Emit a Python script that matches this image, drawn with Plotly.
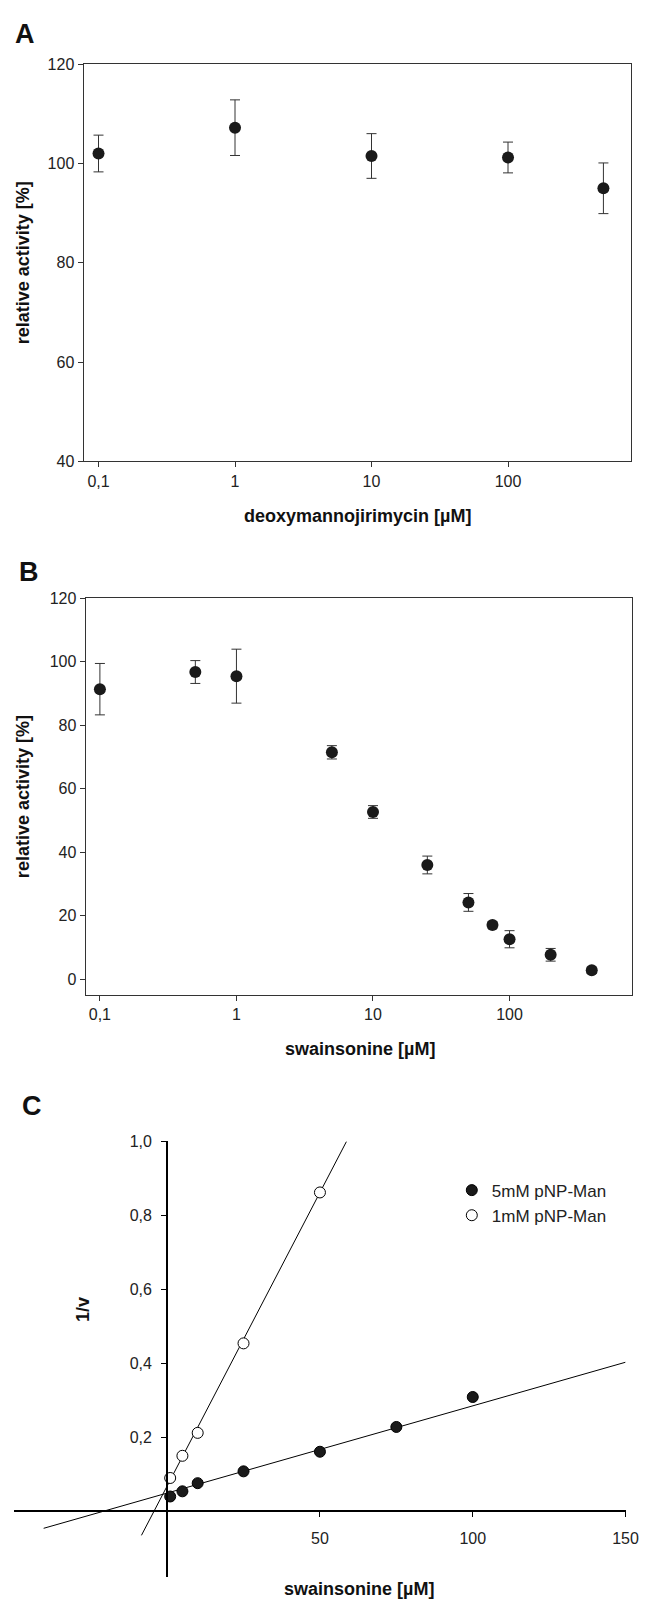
import plotly.graph_objects as go

# ---------------- Data ----------------
# Panel A: deoxymannojirimycin
dmj_conc = [0.1, 1, 10, 100, 500]
dmj_activity = [102.0, 107.2, 101.5, 101.2, 95.0]
dmj_err = [3.7, 5.6, 4.5, 3.1, 5.1]

# Panel B: swainsonine
sw_conc = [0.1, 0.5, 1, 5, 10, 25, 50, 75, 100, 200, 400]
sw_activity = [91.4, 96.8, 95.5, 71.5, 52.7, 36.0, 24.2, 17.1, 12.6, 7.7, 2.8]
sw_err = [8.1, 3.6, 8.5, 2.1, 2.0, 2.8, 2.8, 1.0, 2.7, 2.0, 1.0]

# Panel C: Dixon plot
dixon_conc_5mM = [1, 5, 10, 25, 50, 75, 100]
inv_v_5mM = [0.040, 0.054, 0.076, 0.108, 0.161, 0.228, 0.309]
dixon_conc_1mM = [1, 5, 10, 25, 50]
inv_v_1mM = [0.090, 0.150, 0.212, 0.454, 0.862]
fit_5mM_x = [-40.4, 150]
fit_5mM_y = [-0.046, 0.403]
fit_1mM_x = [-8.4, 58.7]
fit_1mM_y = [-0.065, 1.0]

log_tickvals = [0.1, 1, 10, 100]
log_ticktext = ["0,1", "1", "10", "100"]
a_yticks = [40, 60, 80, 100, 120]
b_yticks = [0, 20, 40, 60, 80, 100, 120]
c_xticks = [50, 100, 150]
c_xticktext = ["50", "100", "150"]
c_yticks = [0.2, 0.4, 0.6, 0.8, 1.0]
c_yticktext = ["0,2", "0,4", "0,6", "0,8", "1,0"]

W, H = 652, 1610
FONT = "Liberation Sans, Arial, Helvetica, sans-serif"
MK = "#1a1a1a"
LC = "#333333"


def px(x):
    return x / W


def py(y):
    return 1 - y / H


fig = go.Figure()

fig.add_trace(go.Scatter(
    x=dmj_conc, y=dmj_activity, mode="markers",
    marker=dict(size=12, color=MK),
    error_y=dict(type="data", array=dmj_err, color=LC, thickness=1, width=5),
    xaxis="x", yaxis="y", showlegend=False))

fig.add_trace(go.Scatter(
    x=sw_conc, y=sw_activity, mode="markers",
    marker=dict(size=12, color=MK),
    error_y=dict(type="data", array=sw_err, color=LC, thickness=1, width=5),
    xaxis="x2", yaxis="y2", showlegend=False))

fig.add_trace(go.Scatter(
    x=fit_5mM_x, y=fit_5mM_y, mode="lines",
    line=dict(color="black", width=1),
    xaxis="x3", yaxis="y3", showlegend=False, hoverinfo="skip"))
fig.add_trace(go.Scatter(
    x=fit_1mM_x, y=fit_1mM_y, mode="lines",
    line=dict(color="black", width=1),
    xaxis="x3", yaxis="y3", showlegend=False, hoverinfo="skip"))
fig.add_trace(go.Scatter(
    x=dixon_conc_5mM, y=inv_v_5mM, mode="markers", name="5mM pNP-Man",
    marker=dict(size=11, color=MK, line=dict(color="black", width=1)),
    xaxis="x3", yaxis="y3"))
fig.add_trace(go.Scatter(
    x=dixon_conc_1mM, y=inv_v_1mM, mode="markers", name="1mM pNP-Man",
    marker=dict(size=11, color="white", line=dict(color="black", width=1)),
    xaxis="x3", yaxis="y3"))

box_axis = dict(showline=True, mirror=True, linecolor=LC, linewidth=1,
                ticks="outside", ticklen=5, tickcolor=LC, showgrid=False,
                zeroline=False, tickfont=dict(size=16, color="#222"))

fig.update_layout(
    width=W, height=H,
    margin=dict(l=0, r=0, t=0, b=0),
    paper_bgcolor="white", plot_bgcolor="white",
    font=dict(family=FONT, size=16, color="#222"),
    xaxis=dict(box_axis, domain=[px(85.2), px(643.7)], anchor="y", type="log",
               range=[-1.11, 2.9], tickvals=log_tickvals, ticktext=log_ticktext),
    yaxis=dict(box_axis, domain=[py(458.3), py(56.7)], anchor="x",
               range=[40, 120], tickvals=a_yticks),
    xaxis2=dict(box_axis, domain=[px(87.3), px(645.3)], anchor="y2", type="log",
                range=[-1.105, 2.9], tickvals=log_tickvals, ticktext=log_ticktext),
    yaxis2=dict(box_axis, domain=[py(997.3), py(596.7)], anchor="x2",
                range=[-4.9, 120], tickvals=b_yticks),
    xaxis3=dict(domain=[px(14.6), px(638.3)], anchor="free",
                position=(py(1519.3)), range=[-50, 150],
                tickvals=c_xticks, ticktext=c_xticktext,
                showline=True, linecolor="black", linewidth=2,
                ticks="outside", ticklen=5, tickcolor="black",
                ticklabelstandoff=8,
                showgrid=False, zeroline=False, tickfont=dict(size=16, color="#222")),
    yaxis3=dict(domain=[py(1585.5), py(1145.5)], anchor="free",
                position=px(170.5), range=[-0.177, 1.0],
                tickvals=c_yticks, ticktext=c_yticktext,
                showline=True, linecolor="black", linewidth=2,
                ticks="outside", ticklen=5, tickcolor="black",
                ticklabelstandoff=6,
                showgrid=False, zeroline=False, tickfont=dict(size=16, color="#222")),
    legend=dict(x=px(461), y=py(1177), xanchor="left", yanchor="top",
                bgcolor="rgba(0,0,0,0)", font=dict(size=17, color="#222"),
                itemsizing="trace"),
)

annots = [
    ("<b>A</b>", 25, 26, 0, 27),
    ("<b>B</b>", 30, 570, 0, 27),
    ("<b>C</b>", 33, 1110, 0, 27),
    ("<b>relative activity [%]</b>", 23, 257.5, -90, 18),
    ("<b>deoxymannojirimycin [µM]</b>", 365, 513, 0, 18),
    ("<b>relative activity [%]</b>", 23, 797, -90, 18),
    ("<b>swainsonine [µM]</b>", 367, 1052, 0, 18),
    ("<b>1/v</b>", 84, 1315.5, -90, 18),
    ("<b>swainsonine [µM]</b>", 366, 1598, 0, 18),
]
for text, x, y, ang, size in annots:
    fig.add_annotation(text=text, x=px(x), y=py(y), xref="paper", yref="paper",
                       xanchor="center", yanchor="middle", textangle=ang,
                       showarrow=False, font=dict(size=size, color="#111", family=FONT))

fig.write_html("out.html",
               config={"displayModeBar": False},
               post_script="document.body.style.margin='0';document.body.style.overflow='hidden';")
